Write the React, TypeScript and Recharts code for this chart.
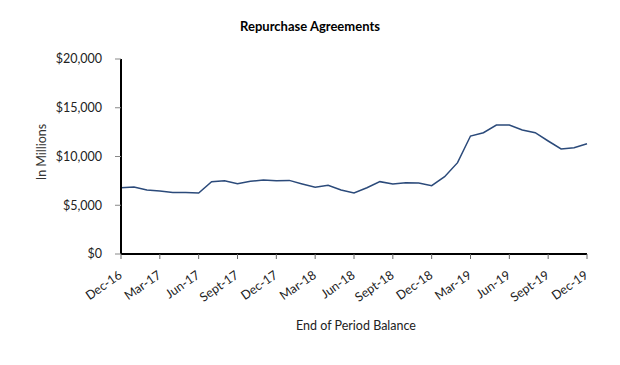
import { LineChart, Line, XAxis, YAxis } from 'recharts';

// month-end balances, $ millions
const months = [
  'Dec-16', 'Jan-17', 'Feb-17', 'Mar-17', 'Apr-17', 'May-17', 'Jun-17', 'Jul-17', 'Aug-17', 'Sept-17',
  'Oct-17', 'Nov-17', 'Dec-17', 'Jan-18', 'Feb-18', 'Mar-18', 'Apr-18', 'May-18', 'Jun-18', 'Jul-18',
  'Aug-18', 'Sept-18', 'Oct-18', 'Nov-18', 'Dec-18', 'Jan-19', 'Feb-19', 'Mar-19', 'Apr-19', 'May-19',
  'Jun-19', 'Jul-19', 'Aug-19', 'Sept-19', 'Oct-19', 'Nov-19', 'Dec-19',
];
const balance = [
  6800, 6870, 6560, 6460, 6320, 6320, 6260, 7420, 7520, 7210,
  7450, 7590, 7520, 7550, 7180, 6840, 7040, 6560, 6260, 6800,
  7420, 7180, 7320, 7280, 7010, 7930, 9370, 12100, 12440, 13230,
  13230, 12720, 12440, 11590, 10770, 10900, 11310,
];
const yTicks = [0, 5000, 10000, 15000, 20000];

const FONT = 'Lato, "Liberation Sans", sans-serif';

const data = months.map((m, i) => ({ month: m, balance: balance[i] }));

function MonthTick({ x, y, payload }: any) {
  return (
    <text
      x={x + 2}
      y={y + 16}
      transform={`rotate(-35, ${x + 2}, ${y + 16})`}
      textAnchor="end"
      fontSize={12.5}
      fontFamily={FONT}
      fill="#222"
    >
      {payload.value}
    </text>
  );
}

export default function App() {
  return (
    <div style={{ position: 'absolute', left: 0, top: 0, width: 620, height: 365, background: '#fff', fontFamily: FONT }}>
      <div style={{ position: 'absolute', left: 210, width: 200, top: 18, textAlign: 'center', fontSize: 13, fontWeight: 700, color: '#000' }}>
        Repurchase Agreements
      </div>
      <div
        style={{
          position: 'absolute',
          left: 41,
          top: 152,
          transform: 'translate(-50%, -50%) rotate(-90deg)',
          fontSize: 12.5,
          color: '#333',
          whiteSpace: 'nowrap',
        }}
      >
        In Millions
      </div>
      <div style={{ position: 'absolute', left: 256, width: 200, top: 318, textAlign: 'center', fontSize: 12.5, color: '#222' }}>
        End of Period Balance
      </div>
      <LineChart width={620} height={365} data={data} margin={{ top: 59, right: 33, bottom: 51, left: 41 }}>
        <XAxis
          dataKey="month"
          interval={2}
          height={60}
          axisLine={{ stroke: '#000', strokeWidth: 2 }}
          tickLine={{ stroke: '#666' }}
          tickSize={5}
          tick={<MonthTick />}
        />
        <YAxis
          width={80}
          domain={[0, 20000]}
          ticks={yTicks}
          axisLine={{ stroke: '#000', strokeWidth: 2 }}
          tickLine={{ stroke: '#888' }}
          tickSize={6}
          tickMargin={13}
          tick={{ fontSize: 12.5, fontFamily: FONT, fill: '#222' }}
          tickFormatter={(v: number) => `$${v.toLocaleString('en-US')}`}
        />
        <Line
          type="linear"
          dataKey="balance"
          stroke="#2B4A7A"
          strokeWidth={1.5}
          dot={false}
          isAnimationActive={false}
        />
      </LineChart>
    </div>
  );
}
